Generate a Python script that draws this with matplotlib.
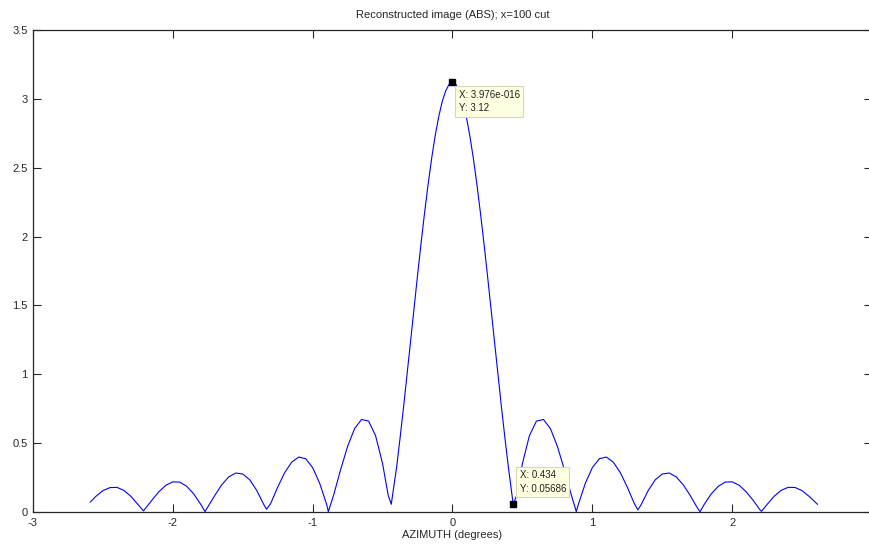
import matplotlib
matplotlib.use("Agg")
import matplotlib.pyplot as plt
from matplotlib.ticker import FuncFormatter

# ---- data ----
azimuth = [
    -2.59, -2.55, -2.50, -2.45, -2.40, -2.35, -2.30, -2.25, -2.21,
    -2.15, -2.10, -2.05, -2.00, -1.95, -1.90, -1.85, -1.80, -1.77,
    -1.70, -1.65, -1.60, -1.55, -1.50, -1.45, -1.40, -1.35, -1.33,
    -1.30, -1.25, -1.20, -1.15, -1.10, -1.05, -1.00, -0.95, -0.90, -0.888,
    -0.85, -0.80, -0.75, -0.70, -0.65, -0.60, -0.55, -0.50, -0.46, -0.438,
    -0.40, -0.375, -0.35, -0.325, -0.30, -0.275, -0.25, -0.225, -0.20,
    -0.175, -0.15, -0.125, -0.10, -0.075, -0.05, -0.025, 0.0,
    0.025, 0.05, 0.075, 0.10, 0.125, 0.15, 0.175, 0.20, 0.225, 0.25,
    0.275, 0.30, 0.325, 0.35, 0.375, 0.40, 0.434,
    0.46, 0.50, 0.55, 0.60, 0.65, 0.70, 0.75, 0.80, 0.85, 0.885,
    0.90, 0.95, 1.00, 1.05, 1.10, 1.15, 1.20, 1.25, 1.30, 1.326,
    1.35, 1.40, 1.45, 1.50, 1.55, 1.60, 1.65, 1.70, 1.75, 1.77,
    1.80, 1.85, 1.90, 1.95, 2.00, 2.05, 2.10, 2.15, 2.20, 2.21,
    2.25, 2.30, 2.35, 2.40, 2.45, 2.50, 2.55, 2.61,
]
magnitude = [
    0.072, 0.114, 0.155, 0.177, 0.179, 0.157, 0.114, 0.055, 0.008,
    0.085, 0.147, 0.194, 0.219, 0.217, 0.186, 0.131, 0.055, 0.003,
    0.120, 0.198, 0.255, 0.283, 0.276, 0.234, 0.157, 0.055, 0.020,
    0.062, 0.181, 0.286, 0.362, 0.399, 0.387, 0.322, 0.209, 0.055, 0.003,
    0.123, 0.308, 0.477, 0.606, 0.672, 0.660, 0.554, 0.351, 0.122, 0.056,
    0.323, 0.537, 0.762, 0.998, 1.238, 1.480, 1.719, 1.950, 2.170,
    2.375, 2.562, 2.725, 2.864, 2.975, 3.055, 3.104, 3.12,
    3.104, 3.055, 2.975, 2.864, 2.725, 2.562, 2.375, 2.170, 1.950, 1.719,
    1.480, 1.238, 0.998, 0.762, 0.537, 0.323, 0.05686,
    0.122, 0.351, 0.554, 0.660, 0.672, 0.606, 0.477, 0.308, 0.123, 0.003,
    0.055, 0.209, 0.322, 0.387, 0.399, 0.362, 0.286, 0.181, 0.062, 0.015,
    0.055, 0.157, 0.234, 0.276, 0.283, 0.255, 0.198, 0.120, 0.032, 0.002,
    0.055, 0.131, 0.186, 0.217, 0.219, 0.194, 0.147, 0.085, 0.014, 0.005,
    0.055, 0.114, 0.157, 0.179, 0.178, 0.155, 0.114, 0.056,
]
tip_x = [3.976e-16, 0.434]
tip_y = [3.12, 0.05686]
tip_labels = ["X: 3.976e-016\nY: 3.12", "X: 0.434\nY: 0.05686"]
x_ticks = [-3, -2, -1, 0, 1, 2, 3]
y_ticks = [0, 0.5, 1, 1.5, 2, 2.5, 3, 3.5]

plt.rcParams['font.family'] = ['Liberation Sans', 'DejaVu Sans']

fig = plt.figure(figsize=(8.7, 5.45), dpi=100)
ax = fig.add_axes([33 / 870, 1 - 512 / 545, 839 / 870, 482 / 545])

ax.plot(azimuth, magnitude, color='#0000FF', linewidth=0.8)
ax.set_xlim(-3, 3)
ax.set_ylim(0, 3.5)
ax.set_xticks(x_ticks)
ax.set_yticks(y_ticks)
ax.xaxis.set_major_formatter(FuncFormatter(lambda v, p: "" if abs(v - 3) < 1e-9 else "%g" % v))
ax.yaxis.set_major_formatter(FuncFormatter(lambda v, p: "%g" % v))
ax.tick_params(direction='in', length=6, width=0.8, top=True, right=True,
               labelsize=8, colors='#262626', pad=4)
for s in ax.spines.values():
    s.set_color('#262626')
    s.set_linewidth(0.9)

ax.set_title("Reconstructed image (ABS); x=100 cut", fontsize=8, color='#262626', pad=9)
ax.set_xlabel("AZIMUTH (degrees)", fontsize=8, color='#262626', labelpad=2)

tip_offsets = [(4.6, -5.3), (4.6, 7.5)]
tip_valign = ['top', 'bottom']
for tx, ty, lab, off, va in zip(tip_x, tip_y, tip_labels, tip_offsets, tip_valign):
    ax.plot([tx], [ty], marker='s', markersize=5, color='black', linestyle='none', zorder=5)
    ax.annotate(lab, xy=(tx, ty), xytext=off, textcoords='offset points',
                ha='left', va=va, fontsize=7, color='#202020', linespacing=1.45,
                bbox=dict(boxstyle='square,pad=0.35', facecolor='#FFFFE1',
                          edgecolor='#D8D4B8', linewidth=0.8), zorder=6)

fig.savefig("out.png", dpi=100)
